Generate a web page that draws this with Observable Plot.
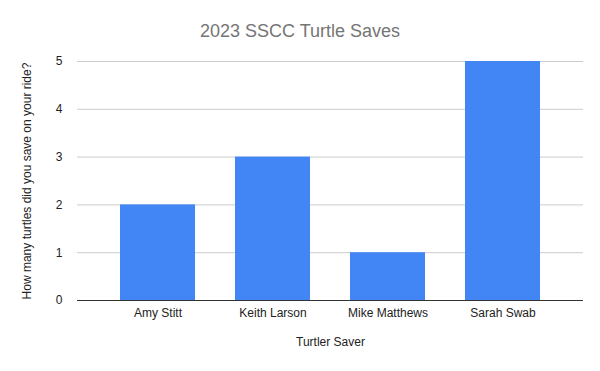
<!DOCTYPE html>
<html>
<head>
<meta charset="utf-8">
<script src="https://cdn.jsdelivr.net/npm/d3@7"></script>
<script src="https://cdn.jsdelivr.net/npm/@observablehq/plot@0.6"></script>
<style>
  body { margin: 0; background: #fff; font-family: "Liberation Sans", Arial, sans-serif; }
  #wrap { position: relative; width: 600px; height: 371px; }
  #title { position: absolute; top: 0; left: 0; width: 600px; text-align: center;
           font-size: 18px; line-height: 63px; color: #757575; }
</style>
</head>
<body>
<div id="wrap"><div id="title">2023 SSCC Turtle Saves</div></div>
<script>
const names = ["Amy Stitt", "Keith Larson", "Mike Matthews", "Sarah Swab"];
const saves = [2, 3, 1, 5];
const yTicks = [0, 1, 2, 3, 4, 5];
const xTitle = "Turtler Saver";
const yTitle = "How many turtles did you save on your ride?";

const data = names.map((n, i) => ({name: n, value: saves[i]}));

const chart = Plot.plot({
  width: 600,
  height: 371,
  marginTop: 61,
  marginBottom: 71,
  marginLeft: 77,
  marginRight: 17,
  style: {fontFamily: "'Liberation Sans', Arial, sans-serif", fontSize: "12px", color: "#222", background: "transparent"},
  x: {domain: names, paddingInner: 0.352, paddingOuter: 0.363, label: null, tickSize: 0, tickPadding: 8},
  y: {domain: [0, 5], ticks: yTicks, label: null, tickSize: 0, tickPadding: 15, tickFormat: d3.format("d")},
  marks: [
    Plot.gridY(yTicks, {stroke: "#cccccc", strokeOpacity: 1}),
    Plot.barY(data, {x: "name", y: "value", fill: "#4285F4"}),
    Plot.ruleY([0], {stroke: "#333", strokeWidth: 1}),
    Plot.text([xTitle], {frameAnchor: "bottom", dy: 45, text: d => d, fontSize: 12, fill: "#222"}),
    Plot.text([yTitle], {frameAnchor: "left", dx: -50, rotate: -90, textAnchor: "middle", text: d => d, fontSize: 12, fill: "#222"})
  ]
});
document.getElementById("wrap").appendChild(chart);
</script>
</body>
</html>
